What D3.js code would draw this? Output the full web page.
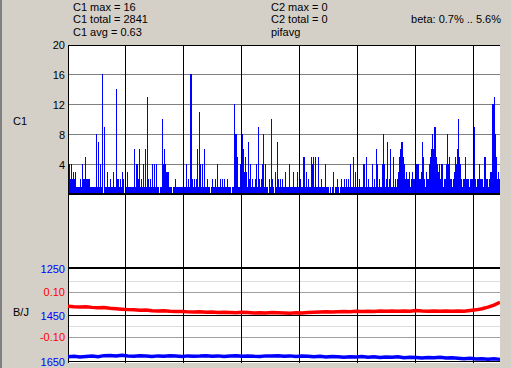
<!DOCTYPE html>
<html><head><meta charset="utf-8">
<script src="https://cdn.jsdelivr.net/npm/d3@7"></script>
<style>body{margin:0;background:#d4d0c8;overflow:hidden}svg{display:block}</style>
</head><body>
<svg id="chart" width="511" height="368"></svg>
<script>
// ---- data ----
const c1Values = [
4,4,2,4,2,3,2,3,1,1,
1,1,2,1,4,2,2,5,2,2,
2,2,1,1,1,1,1,1,8,1,
7,1,4,1,16,0,9,1,1,3,
1,1,2,1,1,3,1,1,14,2,
2,1,2,1,3,2,0,3,1,3,
1,1,1,1,1,1,6,1,4,4,
2,6,1,2,1,4,1,6,1,13,
2,1,2,1,4,1,4,1,4,1,
1,0,1,1,10,4,6,4,3,3,
3,1,1,1,0,1,1,2,1,1,
1,1,1,1,1,0,1,1,4,1,
2,1,16,16,2,1,2,1,2,6,
1,11,4,1,4,1,6,1,1,2,
1,1,0,1,2,1,1,2,1,4,
1,1,2,1,2,1,2,1,1,2,
1,1,1,0,1,1,12,8,8,5,
1,1,4,1,8,6,3,5,3,1,
7,2,4,1,2,1,1,2,4,1,
9,2,1,2,4,8,1,4,1,1,
0,2,1,10,2,1,0,3,1,7,
2,1,2,1,2,1,1,3,1,1,
1,4,1,1,1,3,1,1,1,3,
1,1,2,1,1,5,5,1,3,1,
2,1,1,5,4,5,1,5,1,1,
5,1,1,2,1,1,1,4,1,1,
1,0,1,0,1,3,0,1,1,2,
1,0,1,2,1,1,2,1,2,1,
2,1,4,1,1,5,1,3,1,1,
1,2,1,1,1,4,4,1,5,1,
2,1,1,1,4,1,2,1,6,4,
1,2,1,1,4,8,4,1,2,7,
1,2,6,1,1,5,1,2,1,2,
3,5,6,7,7,5,4,2,3,2,
2,3,1,2,3,2,2,1,4,4,
4,2,2,3,7,5,2,1,3,2,
2,4,5,6,8,6,9,9,5,4,
3,4,2,4,4,1,2,2,4,8,
4,5,2,2,1,2,3,5,4,6,
10,5,4,2,1,2,2,5,2,2,
2,1,2,2,2,4,9,2,1,2,
2,4,2,2,2,1,5,5,2,2,
1,2,3,3,12,12,13,8,5,2,
3,2
];
const betaValues = [
0.038,0.036,0.035,0.036,0.033,0.031,0.032,0.029,0.027,0.025,
0.023,0.022,0.020,0.021,0.018,0.017,0.018,0.016,0.015,0.015,
0.013,0.012,0.013,0.011,0.012,0.010,0.011,0.010,0.009,0.011,
0.010,0.008,0.009,0.008,0.010,0.009,0.008,0.007,0.009,0.008,
0.010,0.011,0.012,0.013,0.012,0.014,0.015,0.014,0.016,0.015,
0.016,0.015,0.017,0.016,0.017,0.016,0.017,0.016,0.019,0.017,
0.016,0.017,0.016,0.017,0.016,0.017,0.016,0.019,0.022,0.027,
0.034,0.043,0.056
];
const jValues = [
1632,1630,1633,1631,1629,1632,1627,1626,1628,1625,
1628,1630,1627,1629,1631,1628,1630,1627,1629,1631,
1628,1630,1629,1627,1630,1628,1631,1629,1627,1630,
1628,1630,1631,1628,1629,1627,1630,1628,1631,1629,
1630,1632,1630,1633,1631,1632,1634,1632,1633,1631,
1634,1632,1635,1633,1634,1632,1636,1634,1635,1637,
1635,1636,1634,1637,1636,1638,1640,1638,1641,1640,
1642,1640,1643
];
const c1Ticks = [4, 8, 12, 16, 20];
const betaTicks = [0.10, -0.10];
const betaMinorTicks = [0.15, -0.05];
const jTicks = [1250, 1450, 1650];
const xGrid = [57, 115, 173, 231, 289, 347, 405];
const headerLeft = ["C1 max = 16", "C1 total = 2841", "C1 avg = 0.63"];
const headerRight = ["C2 max = 0", "C2 total = 0", "pifavg"];
const betaText = "beta: 0.7% .. 5.6%";

// ---- layout ----
const L = 68, R = 500, TOP = 45, BOT = 362;
const svg = d3.select("#chart");
const font = "'Liberation Sans', Arial, sans-serif";

svg.append("rect").attr("width",511).attr("height",368).attr("fill","#d4d0c8");
svg.append("rect").attr("x",0).attr("y",0).attr("width",2).attr("height",368).attr("fill","#808080");
svg.append("rect").attr("x",L).attr("y",TOP).attr("width",R-L).attr("height",BOT-TOP+1).attr("fill","#fff");

const x = d3.scaleLinear().domain([0, c1Values.length]).range([L, R]);
const yC = d3.scaleLinear().domain([0, 20]).range([194, 44]);
const yB = d3.scaleLinear().domain([-0.1, 0.1]).range([337.3, 292.3]);
const yJ = d3.scaleLinear().domain([1250, 1650]).range([268, 361]);
const xl = d3.scaleLinear().domain([0, betaValues.length - 1]).range([L, R]);

const g = svg.append("g").attr("shape-rendering","crispEdges");
// C1 gridlines
g.selectAll(".cg").data(c1Ticks.slice(0,4)).join("line")
  .attr("x1",L).attr("x2",R).attr("y1",d=>Math.round(yC(d))+0.5).attr("y2",d=>Math.round(yC(d))+0.5)
  .attr("stroke","#808080");
// beta minor / major
g.selectAll(".bm").data(betaMinorTicks).join("line")
  .attr("x1",L).attr("x2",R).attr("y1",d=>Math.round(yB(d))+0.5).attr("y2",d=>Math.round(yB(d))+0.5)
  .attr("stroke","#dcdcdc");
g.selectAll(".bg").data(betaTicks).join("line")
  .attr("x1",L).attr("x2",R).attr("y1",d=>Math.round(yB(d))+0.5).attr("y2",d=>Math.round(yB(d))+0.5)
  .attr("stroke","#a0a0a0");
// J lines
g.selectAll(".jg").data(jTicks.slice(1)).join("line")
  .attr("x1",L).attr("x2",R).attr("y1",d=>Math.round(yJ(d))+0.5).attr("y2",d=>Math.round(yJ(d))+0.5)
  .attr("stroke","#000");
g.append("rect").attr("x",L).attr("y",Math.round(yJ(1250))-1).attr("width",R-L).attr("height",2).attr("fill","#000");

// bars
g.selectAll(".bar").data(c1Values).join("rect")
  .attr("x",(d,i)=>x(i)).attr("width",1)
  .attr("y",d=>yC(d)).attr("height",d=>yC(0)-yC(d))
  .attr("fill","#0000ff");

// baseline
g.append("rect").attr("x",L).attr("y",193).attr("width",R-L).attr("height",2).attr("fill","#000");

// vertical grid
g.selectAll(".vg").data(xGrid).join("line")
  .attr("x1",d=>x(d)+0.5).attr("x2",d=>x(d)+0.5).attr("y1",TOP).attr("y2",BOT+1)
  .attr("stroke","#000");
// axes frame
g.append("line").attr("x1",L+0.5).attr("x2",L+0.5).attr("y1",TOP).attr("y2",BOT+1).attr("stroke","#000");
g.append("line").attr("x1",L).attr("x2",R).attr("y1",TOP+0.5).attr("y2",TOP+0.5).attr("stroke","#000");

// lines
svg.append("path").datum(betaValues)
  .attr("d", d3.line().x((d,i)=>xl(i)).y(d=>yB(d)))
  .attr("fill","none").attr("stroke","#ff0000").attr("stroke-width",3.5);
svg.append("path").datum(jValues)
  .attr("d", d3.line().x((d,i)=>xl(i)).y(d=>yJ(d)))
  .attr("fill","none").attr("stroke","#0000ff").attr("stroke-width",3.5);

// cover right
svg.append("rect").attr("x",R).attr("y",0).attr("width",11).attr("height",368).attr("fill","#d4d0c8");

// texts
const t = svg.append("g").style("font-family",font).style("font-size","11px");
const hy = [10.5, 23, 35.5];
t.selectAll(".hl").data(headerLeft).join("text").attr("x",73).attr("y",(d,i)=>hy[i]).text(d=>d);
t.selectAll(".hr").data(headerRight).join("text").attr("x",271).attr("y",(d,i)=>hy[i]).text(d=>d);
t.append("text").attr("x",501).attr("y",hy[1]).attr("text-anchor","end").text(betaText);

t.selectAll(".cl").data(c1Ticks).join("text").attr("x",65).attr("y",d=>yC(d)+4.5)
  .attr("text-anchor","end").text(d=>d);
t.selectAll(".jl").data(jTicks).join("text").attr("x",65).attr("y",d=>yJ(d)+5)
  .attr("text-anchor","end").attr("fill","#0000ff").text(d=>d);
t.selectAll(".bl").data(betaTicks).join("text").attr("x",65).attr("y",d=>yB(d)+4)
  .attr("text-anchor","end").attr("fill","#ff0000").text(d=>d3.format(".2f")(d).replace("−","-"));
t.append("text").attr("x",13).attr("y",124.5).text("C1");
t.append("text").attr("x",13).attr("y",316).text("B/J");
</script>
</body></html>
